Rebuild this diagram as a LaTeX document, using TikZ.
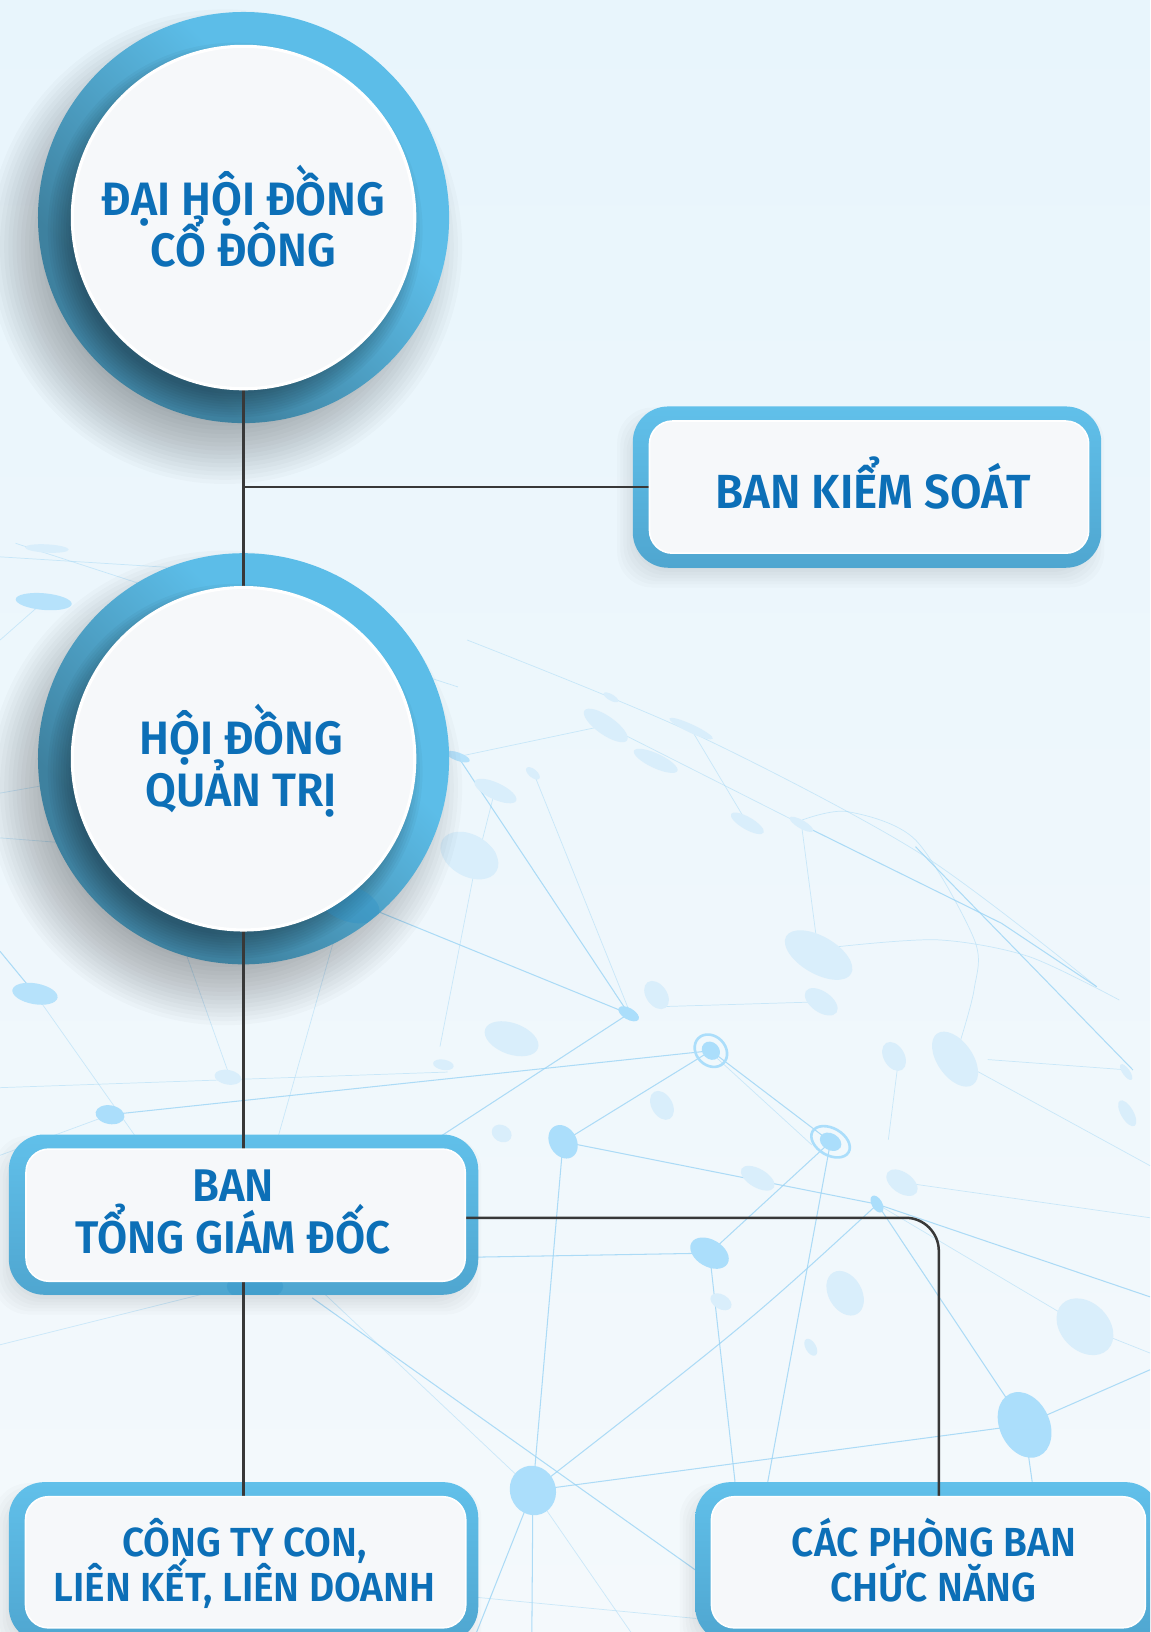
\documentclass[tikz,border=0pt]{standalone}
\usepackage{fontspec}
\usetikzlibrary{calc}
\IfFontExistsTF{Fira Sans SemiBold}{\newfontfamily\labfont{Fira Sans SemiBold}[FakeStretch=0.955]}{\newfontfamily\labfontX{Fira Sans}[FakeStretch=0.955]\newcommand\labfont{\labfontX\bfseries}}
\newcommand\fCirc{\labfont\fontsize{45pt}{50pt}\selectfont}
\newcommand\fBks{\labfont\fontsize{46pt}{50pt}\selectfont}
\newcommand\fBtgd{\labfont\fontsize{44pt}{50pt}\selectfont}
\newcommand\fBot{\labfont\fontsize{39pt}{44pt}\selectfont}
\definecolor{bgtop}{HTML}{E8F5FC}
\definecolor{bgbot}{HTML}{F4F9FC}
\definecolor{ringlight}{HTML}{5CBDE8}
\definecolor{ringdark}{HTML}{3E819F}
\definecolor{boxtop}{HTML}{61C0EA}
\definecolor{boxbot}{HTML}{4FA6D0}
\definecolor{innerfill}{HTML}{F6F8FA}
\definecolor{labcol}{HTML}{0C6FB7}
\definecolor{conncol}{HTML}{383838}
\definecolor{meshline}{HTML}{9BD4F5}
\definecolor{meshsolid}{HTML}{ABDEFB}
\definecolor{meshfaint}{HTML}{D9EEFB}
\definecolor{patch}{HTML}{2A8FC6}
\pgfdeclarehorizontalshading{ringshade}{100bp}{color(0bp)=(ringdark); color(32bp)=(ringdark); color(62bp)=(ringlight); color(100bp)=(ringlight)}
\newcommand\mdot[6]{\fill[#6, rotate around={-#3:(#1,#2)}] (#1,#2) ellipse [x radius=#4, y radius=#5];}
\newcommand\cshadow[2]{\foreach \k in {0,...,15}{\fill[black,opacity=0.019] (#1-18,#2+28) circle[radius={228-4*\k}];}}
\newcommand\rshadow[4]{\foreach \e in {-9,-6,...,9}{\fill[black,opacity=0.017,rounded corners=34pt] (#1-#3/2-6-\e, #2-#4/2+10-\e) rectangle (#1+#3/2-6+\e, #2+#4/2+10+\e);}}
\begin{document}
\begin{tikzpicture}[x=1pt,y=-1pt,
  ml/.style={draw=meshline, line width=1pt, opacity=0.8},
  mlf/.style={draw=meshline, line width=0.7pt, opacity=0.45},
  mS/.style={fill=meshsolid},
  mM/.style={fill=meshsolid!75!meshfaint},
  mF/.style={fill=meshfaint},
  ringnode/.style={circle, inner sep=0pt, minimum size=395pt, shade, shading=ringshade, shading angle=45},
  innercirc/.style={circle, inner sep=0pt, minimum size=329pt, fill=innerfill, draw=white, line width=3pt},
  boxouter/.style={rectangle, inner sep=0pt, rounded corners=34pt, top color=boxtop, bottom color=boxbot},
  boxinner/.style={rectangle, inner sep=0pt, rounded corners=22pt, fill=innerfill, draw=white, line width=1.5pt},
  conn/.style={draw=conncol, line width=2.4pt},
  lab/.style={anchor=base, inner sep=0pt, text=labcol}]
\useasboundingbox (0,0) rectangle (1105,1568);
\begin{scope}
\clip (0,0) rectangle (1105,1568);
\shade[top color=bgtop, bottom color=bgbot] (0,0) rectangle (1105,1568);
% ---------- background mesh lines ----------
\draw[ml] (440,727) -- (604,974);
\draw[ml] (300,850) -- (604,974);
\draw[ml] (604,974) -- (380,1120);
\draw[ml] (683,1009.5) -- (105.7,1071);
\draw[ml] (683,1009.5) -- (541,1097);
\draw[ml] (683,1009.5) -- (798,1097);
\draw[mlf] (686,1014) -- (780,1100);
\draw[ml] (541,1097) -- (843,1157) -- (1105,1246);
\draw[ml] (447,1208) -- (681.7,1204);
\draw[ml] (681.7,1204) -- (798,1097);
\draw[ml] (681.7,1204) -- (706,1422) -- (715,1568);
\draw[ml] (798,1097) -- (711,1568);
\draw[ml] (541,1097) -- (512,1432);
\draw[ml] (843,1157) .. controls (720,1270) .. (512,1432);
\draw[ml] (843,1157) -- (984,1369) -- (1012,1568);
\draw[ml] (984,1369) -- (1105,1316);
\draw[ml] (984,1369) -- (512,1432);
\draw[ml] (512,1432) -- (458,1568);
\draw[ml] (512,1432) -- (511,1568);
\draw[mlf] (512,1432) -- (606,1568);
\draw[mlf] (512,1432) -- (300,1232);
\draw[ml] (300,1247) -- (669,1509);
\draw[mlf] (451,1534) -- (669,1555);
\draw[mlf] (42,578) -- (0,615);
\draw[ml] (33.6,954.8) -- (0,914);
\draw[mlf] (33.6,954.8) -- (150,1120);
\draw[mlf] (105.7,1071) -- (0,1110);
\draw[mlf] (320,906) -- (265,1100);
\draw[mlf] (179,917) -- (221,1035);
\draw[mlf] (0,1045) -- (430,1030);
\draw[mlf] (0,762) -- (80,748);
\draw[mlf] (0,805) -- (90,812);
\draw[mlf] (0,535) -- (160,545);
\draw[mlf] (15,522) -- (440,660);
\draw[mlf] (0,1292) -- (240,1232);
\draw[mlf] plot[smooth] coordinates {(448.8,614.9) (666.4,704.6) (884,819.9) (1053.7,948)};
\draw[ml] (770.8,792.6) -- (962.3,887.1) -- (1053.7,948);
\draw[ml] (879.6,813.5) -- (1088.5,1028);
\draw[mlf] plot[smooth] coordinates {(770.8,787.8) (814.3,779.8) (879.6,807) (936.2,903) (936,950) (923,999)};
\draw[mlf] (514,746) -- (605.5,973.6);
\draw[mlf] (666.4,704.6) -- (718,791);
\draw[mlf] (770,792) -- (786.5,917.6);
\draw[mlf] plot[smooth] coordinates {(805.6,909.5) (901.4,903) (988.4,919) (1075.4,960.8)};
\draw[mlf] (640.3,967) -- (789,962.5);
\draw[mlf] (949,1018) -- (1084,1028);
\draw[mlf] (862,1028) -- (853.5,1095);
\draw[mlf] (474,765.4) -- (455.3,839) -- (422.7,1005.6);
\draw[mlf] (917.6,1017.6) -- (1105,1120);
\draw[mlf] (1042,1275) -- (1105,1300);
\draw[mlf] (843,1157) -- (1042,1275);
\draw[mlf] (866.6,1136) -- (1105,1170);
\draw[mlf] (440,727) -- (582,697) -- (770,792);
% ---------- background mesh dots ----------
\mdot{45}{527}{3}{21}{4}{mF}
\mdot{42}{578}{5}{27}{8}{mM}
\mdot{440}{727}{20}{12}{4}{mM}
\mdot{476}{760}{25}{22}{8}{mF}
\mdot{451}{822}{30}{30}{20}{mF}
\mdot{460}{815}{30}{19}{8}{mF}
\mdot{582}{697}{35}{25}{9}{mF}
\mdot{587}{670}{30}{8}{3}{mF}
\mdot{664}{700}{25}{23}{4}{mF}
\mdot{630}{731}{25}{23}{7}{mF}
\mdot{512}{743}{40}{8}{4}{mF}
\mdot{718}{791}{30}{18}{6}{mF}
\mdot{770}{792}{30}{13}{4}{mF}
\mdot{786.5}{917.6}{30}{36}{18}{mF}
\mdot{789}{962.5}{35}{18}{10}{mF}
\mdot{630.8}{956}{55}{15}{10}{mF}
\mdot{604}{974}{30}{11}{5.5}{mS}
\mdot{491.5}{998}{20}{27}{15}{mF}
\mdot{859}{1015}{60}{15}{10}{mF}
\mdot{917.6}{1017.6}{55}{30}{17}{mF}
\mdot{1082}{1030}{55}{9}{3.5}{mF}
\mdot{1083}{1069.6}{60}{14}{6}{mF}
\mdot{636}{1062}{60}{15}{10}{mF}
\mdot{426}{1023}{10}{10}{5}{mF}
\mdot{482}{1089}{30}{10}{8}{mF}
\mdot{541}{1097}{60}{17}{13}{mS}
\mdot{728}{1132}{30}{18}{9}{mF}
\mdot{866.6}{1136.3}{35}{17}{10}{mF}
\mdot{842.6}{1156.8}{60}{9}{5}{mS}
\mdot{681.7}{1204}{30}{20}{13}{mS}
\mdot{692.7}{1250.7}{30}{11}{7}{mF}
\mdot{812}{1242.5}{60}{23}{16}{mF}
\mdot{779}{1294.4}{60}{9}{5}{mF}
\mdot{1042.4}{1274.7}{45}{31}{23}{mF}
\mdot{1051}{1266}{60}{15}{8}{mF}
\mdot{984.4}{1369}{65}{33}{24}{mS}
\mdot{512}{1432}{70}{24}{22}{mS}
\mdot{33.6}{954.8}{10}{22}{10}{mM}
\mdot{105.7}{1071}{10}{14}{9}{mS}
\mdot{219}{1035}{10}{13}{7}{mF}
\draw[meshsolid, line width=2.5pt, rotate around={-45:(683,1009.5)}] (683,1009.5) ellipse [x radius=17, y radius=14];
\fill[meshsolid, rotate around={-45:(683,1009.5)}] (683,1009.5) ellipse [x radius=9.5, y radius=8];
\draw[meshsolid, line width=2.5pt, rotate around={-30:(798,1097)}] (798,1097) ellipse [x radius=20, y radius=13];
\fill[meshsolid, rotate around={-30:(798,1097)}] (798,1097) ellipse [x radius=11, y radius=8];
% ---------- shadows ----------
\cshadow{234}{209}
\cshadow{234}{729}
\rshadow{833}{468}{450}{155}
\rshadow{234}{1167}{451}{154}
\rshadow{234}{1501}{451}{154}
\rshadow{891.5}{1501}{447}{154}
% ---------- outer shapes ----------
\node[ringnode] (r1) at (234,209) {};
\node[ringnode] (r2) at (234,729) {};
\node[boxouter, minimum width=450pt, minimum height=155pt] (bkso) at (833,468) {};
\node[boxouter, minimum width=451pt, minimum height=154pt] (btgdo) at (234,1167) {};
\node[boxouter, minimum width=451pt, minimum height=154pt] (ctco) at (234,1501) {};
\node[boxouter, minimum width=447pt, minimum height=154pt] (cpbo) at (891.5,1501) {};
% inner shadows on rings
\begin{scope}
\clip (r1.center) circle [radius=197.5];
\foreach \k in {0,...,9}{\fill[black,opacity=0.03] ($(r1.center)+(-8,12)$) circle [radius={180-2.5*\k}];}
\end{scope}
\begin{scope}
\clip (r2.center) circle [radius=197.5];
\foreach \k in {0,...,9}{\fill[black,opacity=0.03] ($(r2.center)+(-8,12)$) circle [radius={180-2.5*\k}];}
\fill[patch, opacity=0.35, rotate around={-20:(335,868)}] (335,868) ellipse [x radius=31, y radius=17];
\end{scope}
\begin{scope}
\clip[rounded corners=34pt] (btgdo.south west) rectangle (btgdo.north east);
\fill[patch, opacity=0.3] (245,1236) ellipse [x radius=27, y radius=14];
\end{scope}
% ---------- connectors ----------
\coordinate (j1) at (r1.center |- bkso.center);
\coordinate (k2) at (902,1170);
\draw[conn] (r1.center) -- (r2.center);
\draw[conn] (j1) -- (bkso.center);
\draw[conn] (r2.center) -- (ctco.center);
\draw[conn, rounded corners=32pt] (btgdo.center |- k2) -- (k2) -- (k2 |- cpbo.center);
% ---------- inner shapes ----------
\node[innercirc] (c1) at (r1.center) {};
\node[innercirc] (c2) at (r2.center) {};
\node[boxinner, minimum width=422pt, minimum height=127pt] (bks) at (835,468) {};
\node[boxinner, minimum width=422pt, minimum height=127pt] (btgd) at (236,1167.5) {};
\node[boxinner, minimum width=423pt, minimum height=126pt] (ctc) at (236,1501) {};
\node[boxinner, minimum width=417pt, minimum height=126pt] (cpb) at (892,1501) {};
% ---------- labels ----------
\node[lab, font=\fCirc] (t1a) at (234,206.6) {ĐẠI HỘI ĐỒNG};
\node[lab, font=\fCirc] (t1b) at (234,256) {CỔ ĐÔNG};
\node[lab, font=\fCirc] (t2a) at (232,724.8) {HỘI ĐỒNG};
\node[lab, font=\fCirc] (t2b) at (232,775) {QUẢN TRỊ};
\node[lab, font=\fBks] (t3) at (839,488.3) {BAN KIỂM SOÁT};
\node[lab, font=\fBtgd] (t4a) at (224,1154) {BAN};
\node[lab, font=\fBtgd] (t4b) at (224,1204) {TỔNG GIÁM ĐỐC};
\node[lab, font=\fBot] (t5a) at (235,1495.7) {CÔNG TY CON,};
\node[lab, font=\fBot] (t5b) at (235,1539) {LIÊN KẾT, LIÊN DOANH};
\node[lab, font=\fBot] (t6a) at (897.5,1495.7) {CÁC PHÒNG BAN};
\node[lab, font=\fBot] (t6b) at (897,1539) {CHỨC NĂNG};
\end{scope}
\end{tikzpicture}
\end{document}
